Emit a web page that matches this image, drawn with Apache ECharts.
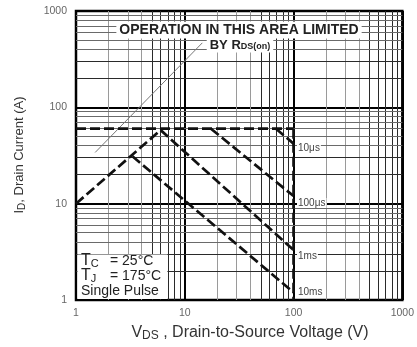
<!DOCTYPE html>
<html>
<head>
<meta charset="utf-8">
<script src="https://cdn.jsdelivr.net/npm/echarts@6/dist/echarts.min.js"></script>
<style>
  html, body { margin: 0; padding: 0; background: #fff; }
  #chart { width: 417px; height: 347px; }
</style>
</head>
<body>
<div id="chart"></div>
<script>
// Maximum safe operating area: drain current vs drain-to-source voltage (log-log)
const xTicks = [1, 10, 100, 1000];
const yTicks = [1, 10, 100, 1000];
const minorSteps = [2, 3, 4, 5, 6, 7, 8, 9];

// Boundary segments, [V, A]
const currentLimit = [[1, 60], [100, 60]];
const voltageLimit = [[100, 60], [100, 1]];
const rdsOnLimit = [[1, 10], [6, 58]];
const pulse10us = [[69, 60], [100, 42]];
const pulse100us = [[17.4, 60], [100, 12]];
const pulse1ms = [[6, 58], [100, 3.3]];
const pulse10ms = [[3.3, 31], [100, 1.2]];
const rdsLeader = [[1.5, 34], [14.5, 467]];
const pulseLabels = ['10μs', '100μs', '1ms', '10ms'];
// Corners of the test-condition panel, [V, A]
const conditionBox = [[1, 3], [7, 1]];

const FONT = '"Liberation Sans", Arial, sans-serif';

// Logarithmic minor grid (2..9 within each decade)
const decades = xTicks.slice(0, -1);
const vMinor = [];
const hMinor = [];
decades.forEach(d => minorSteps.forEach(s => {
  vMinor.push({ xAxis: d * s, lineStyle: { color: s <= 4 ? '#9a9a9a' : '#2a2a2a' } });
  hMinor.push({ yAxis: d * s, lineStyle: { color: s >= 4 ? '#6a6a6a' : '#2a2a2a' } });
}));

const dashed = { color: '#111', width: 2.7, type: [10, 4] };
function boundary(data) {
  return {
    type: 'line', data, symbol: 'none', z: 10, silent: true,
    lineStyle: dashed, animation: false
  };
}

const chart = echarts.init(document.getElementById('chart'), null, { renderer: 'canvas' });
chart.setOption({
  animation: false,
  backgroundColor: '#fff',
  grid: { left: 76, top: 11, right: 13, bottom: 47, show: true, borderColor: '#000', borderWidth: 2.5, backgroundColor: 'transparent' },
  xAxis: {
    type: 'log', logBase: 10, min: xTicks[0], max: xTicks[xTicks.length - 1],
    axisLine: { show: false }, axisTick: { show: false },
    axisLabel: { color: '#666', fontSize: 10.5, fontFamily: FONT, margin: 8, formatter: v => String(v) },
    splitLine: { show: true, lineStyle: { color: '#000', width: 2 } }
  },
  yAxis: {
    type: 'log', logBase: 10, min: yTicks[0], max: yTicks[yTicks.length - 1],
    axisLine: { show: false }, axisTick: { show: false },
    axisLabel: { color: '#666', fontSize: 10.5, fontFamily: FONT, margin: 9, formatter: v => String(v) },
    splitLine: { show: true, lineStyle: { color: '#000', width: 2 } }
  },
  series: [
    {
      type: 'line', data: [], z: 1, silent: true,
      markLine: {
        silent: true, symbol: 'none', animation: false, label: { show: false },
        lineStyle: { type: 'solid', width: 1 },
        data: vMinor.concat(hMinor)
      }
    },
    {
      type: 'line', data: rdsLeader, symbol: 'none', z: 8, silent: true,
      lineStyle: { color: '#777', width: 1 }
    },
    boundary(currentLimit),
    boundary(voltageLimit),
    boundary(rdsOnLimit),
    boundary(pulse10us),
    boundary(pulse100us),
    boundary(pulse1ms),
    boundary(pulse10ms)
  ]
});

// Annotations
const labelY = [149, 204, 257, 293];
const graphics = [];

// White panel behind the test conditions, framed by grid lines
const p0 = chart.convertToPixel({ gridIndex: 0 }, conditionBox[0]);
const p1 = chart.convertToPixel({ gridIndex: 0 }, conditionBox[1]);
graphics.push({
  type: 'rect', z: 15, silent: true,
  shape: { x: p0[0] + 1.5, y: p0[1] + 0.5, width: p1[0] - p0[0] - 2, height: p1[1] - p0[1] - 1.5 },
  style: { fill: '#fff' }
});

pulseLabels.forEach((t, i) => {
  graphics.push({
    type: 'text', left: 297, top: labelY[i] - 6, z: 20,
    style: { text: t, font: '10px ' + FONT, fill: '#444', backgroundColor: '#fff', padding: [0, 1, 0, 1] }
  });
});

graphics.push({
  type: 'text', x: 239, y: 30, z: 20,
  style: {
    text: 'OPERATION IN THIS AREA LIMITED', font: 'bold 14px ' + FONT, fill: '#222',
    align: 'center', verticalAlign: 'middle', backgroundColor: '#fff', padding: [2, 3, 1, 3]
  }
});
graphics.push({
  type: 'text', x: 240, y: 45, z: 20,
  style: {
    text: '{a|BY R}{s|DS(on)}', align: 'center', verticalAlign: 'middle',
    backgroundColor: '#fff', padding: [1, 3, 1, 3],
    rich: {
      a: { font: 'bold 13px ' + FONT, fill: '#222' },
      s: { font: 'bold 9px ' + FONT, fill: '#222', padding: [3, 0, 0, 0] }
    }
  }
});

// Test conditions
const condRich = {
  t: { font: '16px ' + FONT, fill: '#222' },
  s: { font: '11px ' + FONT, fill: '#222', padding: [5, 0, 0, 0] }
};
graphics.push({ type: 'text', left: 81, top: 253, z: 20, style: { text: '{t|T}{s|C}', rich: condRich } });
graphics.push({ type: 'text', left: 110, top: 254, z: 20, style: { text: '= 25°C', font: '14px ' + FONT, fill: '#222' } });
graphics.push({ type: 'text', left: 81, top: 268, z: 20, style: { text: '{t|T}{s|J}', rich: condRich } });
graphics.push({ type: 'text', left: 110, top: 269, z: 20, style: { text: '= 175°C', font: '14px ' + FONT, fill: '#222' } });
graphics.push({ type: 'text', left: 81, top: 284, z: 20, style: { text: 'Single Pulse', font: '14px ' + FONT, fill: '#222' } });

// Axis titles
graphics.push({
  type: 'text', x: 250, y: 333, z: 20,
  style: {
    text: '{v|V}{s|DS}{v| , Drain-to-Source Voltage (V)}', align: 'center', verticalAlign: 'middle',
    rich: {
      v: { font: '16px ' + FONT, fill: '#333' },
      s: { font: '12px ' + FONT, fill: '#333', padding: [6, 0, 0, 0] }
    }
  }
});
graphics.push({
  type: 'text', x: 19, y: 155, rotation: Math.PI / 2, z: 20,
  style: {
    text: '{v|I}{s|D}{v|, Drain Current (A)}', align: 'center', verticalAlign: 'middle',
    rich: {
      v: { font: '13px ' + FONT, fill: '#333' },
      s: { font: '10px ' + FONT, fill: '#333', padding: [6, 0, 0, 0] }
    }
  }
});

chart.setOption({ graphic: graphics });
</script>
</body>
</html>
